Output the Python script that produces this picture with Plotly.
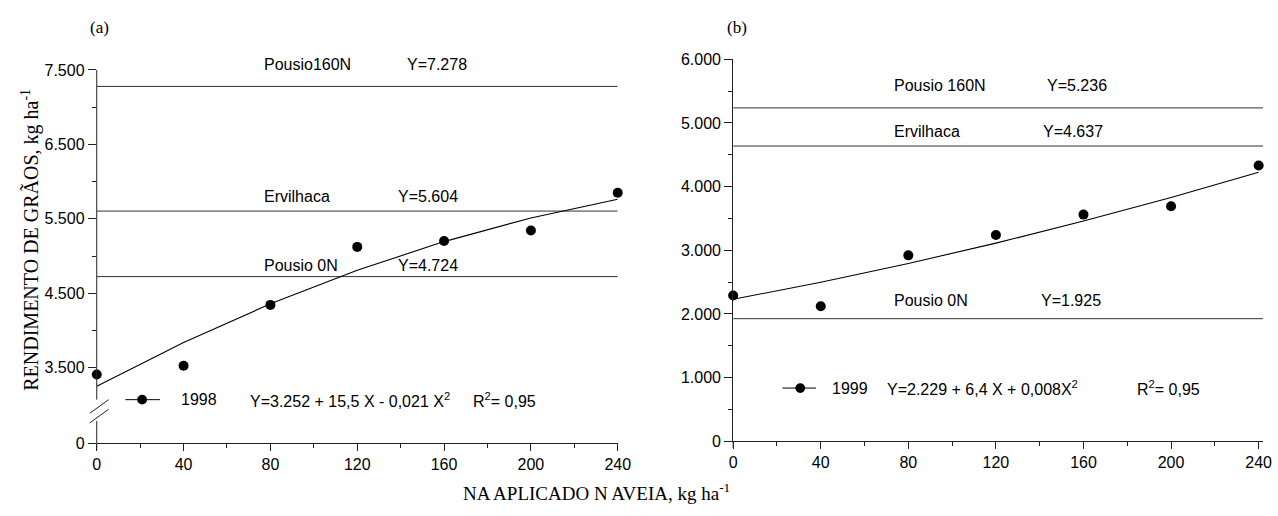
import plotly.graph_objects as go

W, H = 1278, 516

# ---------------- data ----------------
x_n = [0, 40, 80, 120, 160, 200, 240]

# 1998 (panel a)
obs_1998 = [3409, 3526, 4344, 5123, 5201, 5344, 5851]
fit_1998 = [3252, 3838, 4358, 4810, 5194, 5512, 5762]
ref_names_a = ["Pousio160N", "Ervilhaca", "Pousio 0N"]
ref_vals_a = [7278, 5604, 4724]
ref_text_a = ["Y=7.278", "Y=5.604", "Y=4.724"]

# 1999 (panel b)
obs_1999 = [2290, 2120, 2920, 3240, 3560, 3690, 4330]
fit_1999 = [2229, 2498, 2792, 3112, 3458, 3829, 4226]
ref_names_b = ["Pousio 160N", "Ervilhaca", "Pousio 0N"]
ref_vals_b = [5236, 4637, 1925]
ref_text_b = ["Y=5.236", "Y=4.637", "Y=1.925"]

xticks = [0, 40, 80, 120, 160, 200, 240]
xminor = [20, 60, 100, 140, 180, 220]
ya_ticks = [3500, 4500, 5500, 6500, 7500]
ya_ticktext = ["3.500", "4.500", "5.500", "6.500", "7.500"]
ya_minor = [4000, 5000, 6000, 7000]
yb_ticks = [0, 1000, 2000, 3000, 4000, 5000, 6000]
yb_ticktext = ["0", "1.000", "2.000", "3.000", "4.000", "5.000", "6.000"]
yb_minor = [500, 1500, 2500, 3500, 4500, 5500]

# ---------------- layout geometry ----------------
def px(v):
    return v / W

def py(v):
    return 1 - v / H

# panel a: broken axis, "0" placed at the bottom of the axis
ya_bottom = 2487  # value at the broken-axis bottom (labelled 0)
ya_range = [ya_bottom, 7500]
xa_range = [0, 240]
xb_range = [0, 242]
yb_range = [0, 6000]
xb_line_end = 243

ax_a = dict(l=94, r=622, t=64, b=450)
ax_b = dict(l=739, r=1276, t=53, b=448)

SANS = "Liberation Sans, Arial, sans-serif"
SERIF = "Liberation Serif, Times New Roman, serif"
AXC = "#222"

fig = go.Figure()

def add_panel(xa, ya, x, obs, fit, refv, xend):
    for v in refv:
        fig.add_trace(go.Scatter(x=[0, xend], y=[v, v], mode="lines",
                                 line=dict(color="#333", width=1),
                                 xaxis=xa, yaxis=ya, showlegend=False,
                                 hoverinfo="skip", cliponaxis=False))
    fig.add_trace(go.Scatter(x=x, y=fit, mode="lines",
                             line=dict(color="black", width=1.1),
                             xaxis=xa, yaxis=ya, showlegend=False,
                             cliponaxis=False))
    fig.add_trace(go.Scatter(x=x, y=obs, mode="markers",
                             marker=dict(color="black", size=10),
                             xaxis=xa, yaxis=ya, showlegend=False,
                             cliponaxis=False))

add_panel("x", "y", x_n, obs_1998, fit_1998, ref_vals_a, 240)
add_panel("x2", "y2", x_n, obs_1999, fit_1999, ref_vals_b, xb_line_end)

common_x = dict(tickvals=xticks, ticktext=[str(t) for t in xticks],
                ticks="outside", ticklen=7, tickcolor=AXC, tickwidth=1,
                showline=True, linecolor=AXC, linewidth=1,
                showgrid=False, zeroline=False,
                tickfont=dict(family=SANS, size=16, color="black"),
                minor=dict(tickvals=xminor, ticks="outside", ticklen=4,
                           tickcolor=AXC, showgrid=False))

fig.update_layout(
    width=W, height=H,
    margin=dict(l=0, r=0, t=0, b=0),
    paper_bgcolor="white", plot_bgcolor="white",
    showlegend=False,
    xaxis=dict(domain=[px(ax_a["l"]), px(ax_a["r"])], range=xa_range,
               anchor="y", **common_x),
    yaxis=dict(domain=[py(ax_a["b"]), py(ax_a["t"])], range=ya_range,
               anchor="x",
               tickvals=[ya_bottom] + ya_ticks, ticktext=["0"] + ya_ticktext,
               ticks="outside", ticklen=8, tickcolor=AXC,
               showline=False, showgrid=False, zeroline=False,
               tickfont=dict(family=SANS, size=16, color="black"),
               minor=dict(tickvals=ya_minor, ticks="outside", ticklen=4,
                          tickcolor=AXC, showgrid=False)),
    xaxis2=dict(domain=[px(ax_b["l"]), px(ax_b["r"])], range=xb_range,
                anchor="y2", **common_x),
    yaxis2=dict(domain=[py(ax_b["b"]), py(ax_b["t"])], range=yb_range,
                anchor="x2",
                tickvals=yb_ticks, ticktext=yb_ticktext,
                ticks="outside", ticklen=8, tickcolor=AXC,
                showline=True, linecolor=AXC, linewidth=1,
                showgrid=False, zeroline=False,
                tickfont=dict(family=SANS, size=16, color="black"),
                minor=dict(tickvals=yb_minor, ticks="outside", ticklen=4,
                           tickcolor=AXC, showgrid=False)),
)

shapes = []
# broken y axis of panel a
shapes.append(dict(type="line", xref="paper", yref="paper",
                   x0=px(94), x1=px(94), y0=py(64), y1=py(405),
                   line=dict(color=AXC, width=1)))
shapes.append(dict(type="line", xref="paper", yref="paper",
                   x0=px(94), x1=px(94), y0=py(427), y1=py(457),
                   line=dict(color=AXC, width=1)))
for dy in (0, 10):
    shapes.append(dict(type="line", xref="paper", yref="paper",
                       x0=px(87), x1=px(106), y0=py(419 + dy), y1=py(405 + dy),
                       line=dict(color=AXC, width=1)))
# y axis b extends a bit below the x axis
shapes.append(dict(type="line", xref="paper", yref="paper",
                   x0=px(739), x1=px(739), y0=py(448), y1=py(455),
                   line=dict(color=AXC, width=1)))

# legend symbols
def legend_symbol(x0, x1, xc, yc):
    shapes.append(dict(type="line", xref="paper", yref="paper",
                       x0=px(x0), x1=px(x1), y0=py(yc), y1=py(yc),
                       line=dict(color="black", width=1)))
    shapes.append(dict(type="circle", xref="paper", yref="paper",
                       x0=px(xc - 5), x1=px(xc + 5), y0=py(yc - 5), y1=py(yc + 5),
                       fillcolor="black", line=dict(color="black", width=0)))

legend_symbol(123, 158, 140, 405)
legend_symbol(789, 823, 807, 393)
fig.update_layout(shapes=shapes)

ann = []

def txt(x, y, s, size=16, family=SANS, xanchor="left", xref="paper", yref="paper",
        yshift=0, angle=0):
    ann.append(dict(x=x, y=y, xref=xref, yref=yref, text=s, showarrow=False,
                    xanchor=xanchor, yanchor="middle", yshift=yshift,
                    textangle=angle,
                    font=dict(family=family, size=size, color="black")))

# reference line labels, panel a (x in data units)
a_name_x = [76, 76, 76]
a_val_x = [142, 138, 138]
a_shift = [22, 15, 11]
for n, t, v, nx, vx, s in zip(ref_names_a, ref_text_a, ref_vals_a, a_name_x, a_val_x, a_shift):
    txt(nx, v, n, xref="x", yref="y", yshift=s)
    txt(vx, v, t, xref="x", yref="y", yshift=s)

# reference line labels, panel b
b_name_x = [72.5, 72.5, 72.5]
b_val_x = [142.5, 140.5, 139.5]
b_shift = [22, 15, 18]
for n, t, v, nx, vx, s in zip(ref_names_b, ref_text_b, ref_vals_b, b_name_x, b_val_x, b_shift):
    txt(nx, v, n, xref="x2", yref="y2", yshift=s)
    txt(vx, v, t, xref="x2", yref="y2", yshift=s)

# legends
txt(px(177), py(405), "1998")
txt(px(247), py(405), "Y=3.252 + 15,5 X - 0,021 X<sup>2</sup>")
txt(px(473), py(405), "R<sup>2</sup>= 0,95")
txt(px(837), py(393), "1999")
txt(px(893), py(393), "Y=2.229 + 6,4 X + 0,008X<sup>2</sup>")
txt(px(1146), py(393), "R<sup>2</sup>= 0,95")

# panel letters and titles
txt(px(97), py(20), "(a)", family=SERIF, xanchor="center", size=17)
txt(px(743), py(20), "(b)", family=SERIF, xanchor="center", size=17)
txt(px(600), py(500), "NA APLICADO N AVEIA, kg ha<sup>-1</sup>", family=SERIF,
    xanchor="center", size=19)
txt(px(26), py(240), "RENDIMENTO DE GRÃOS, kg ha<sup>-1</sup>", family=SERIF,
    xanchor="center", size=20, angle=-90)

fig.update_layout(annotations=ann)

fig.write_html("out.html")
